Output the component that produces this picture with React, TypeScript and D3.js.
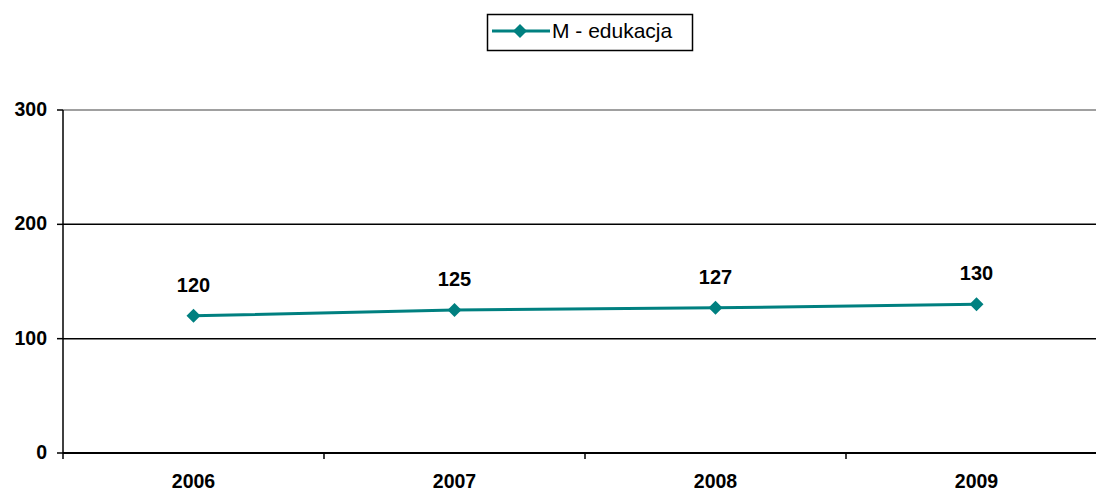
import React from "react";
import * as d3 from "d3";

const categories = ["2006", "2007", "2008", "2009"];
const values = [120, 125, 127, 130];
const yTicks = [0, 100, 200, 300];
const seriesName = "M - edukacja";

export default function App() {
  const W = 1096, H = 493;
  const left = 63, right = 1107, top = 110, bottom = 453;
  const x = d3.scaleBand().domain(categories).range([left, right]);
  const y = d3.scaleLinear().domain([0, 300]).range([bottom, top]);
  const color = "#008080";
  const font = "Arial, 'Liberation Sans', sans-serif";
  const line = d3.line<number>().x((_, i) => x(categories[i])! + x.bandwidth() / 2).y(d => y(d));
  const diamond = (cx: number, cy: number, r: number) =>
    `M${cx},${cy - r}L${cx + r},${cy}L${cx},${cy + r}L${cx - r},${cy}Z`;
  const bounds = [...categories.map(c => x(c)!), right];
  return (
    <svg width={W} height={H} style={{ position: "absolute", left: 0, top: 0 }} fontFamily={font}>
      <rect x={0} y={0} width={W} height={H} fill="#fff" />
      {yTicks.map(t => (
        <g key={t}>
          <line x1={left} x2={W} y1={y(t)} y2={y(t)} stroke={t === 300 ? "#808080" : "#000"} strokeWidth={1.5} />
          <line x1={left - 6} x2={left} y1={y(t)} y2={y(t)} stroke="#000" strokeWidth={1.5} />
          <text x={47} y={y(t) + 6} textAnchor="end" fontSize={19.5} fontWeight="bold">{t}</text>
        </g>
      ))}
      <line x1={left} x2={left} y1={top} y2={bottom} stroke="#000" strokeWidth={1.5} />
      <line x1={left} x2={W} y1={bottom} y2={bottom} stroke="#000" strokeWidth={2} />
      {bounds.map((b, i) => (
        <line key={i} x1={b} x2={b} y1={bottom} y2={bottom + 6} stroke="#000" strokeWidth={1.5} />
      ))}
      {categories.map(c => (
        <text key={c} x={x(c)! + x.bandwidth() / 2} y={488} textAnchor="middle" fontSize={19.5} fontWeight="bold">{c}</text>
      ))}
      <path d={line(values)!} fill="none" stroke={color} strokeWidth={3} />
      {values.map((v, i) => {
        const cx = x(categories[i])! + x.bandwidth() / 2;
        const cy = y(v);
        return (
          <g key={i}>
            <path d={diamond(cx, cy, 7)} fill={color} />
            <text x={cx} y={cy - 24} textAnchor="middle" fontSize={20} fontWeight="bold">{v}</text>
          </g>
        );
      })}
      <rect x={487.5} y={14.5} width={205} height={36} fill="#fff" stroke="#000" strokeWidth={1.5} />
      <line x1={492} x2={550} y1={31} y2={31} stroke={color} strokeWidth={3} />
      <path d={diamond(520, 31, 7)} fill={color} />
      <text x={552} y={38} fontSize={21}>{seriesName}</text>
    </svg>
  );
}
